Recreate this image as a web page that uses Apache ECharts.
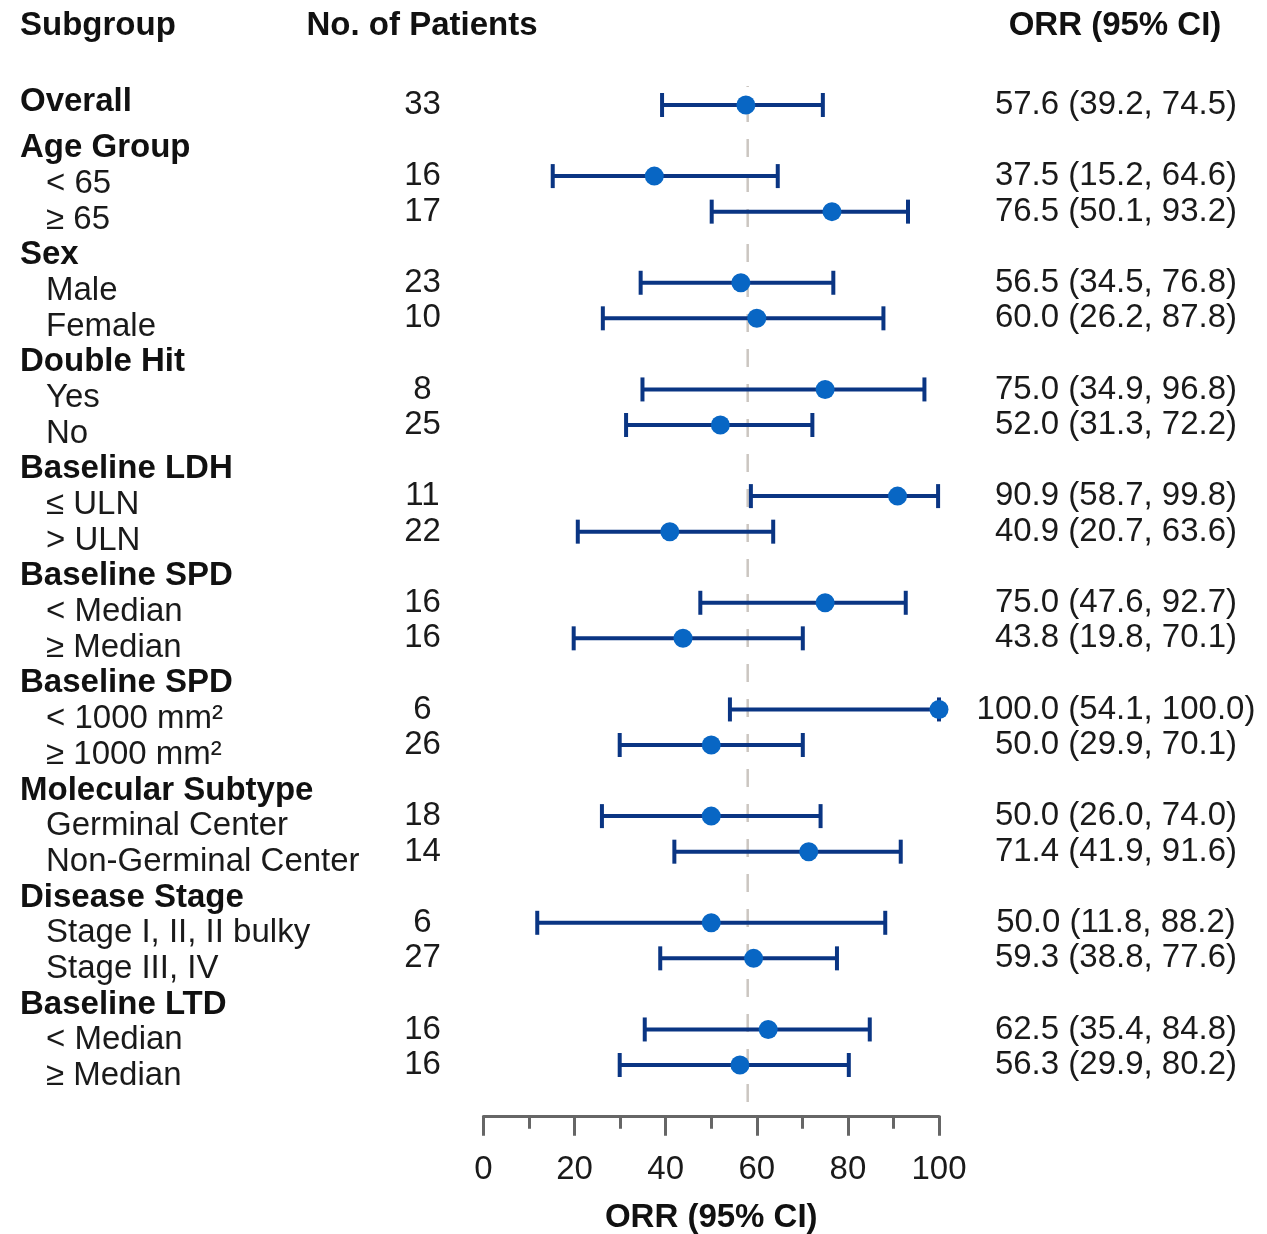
<!DOCTYPE html>
<html><head><meta charset="utf-8">
<script src="https://cdn.jsdelivr.net/npm/echarts@6/dist/echarts.min.js"></script>
<style>html,body{margin:0;padding:0;background:#fff}#c{width:1267px;height:1234px}</style>
</head><body><div id="c"></div>
<script>
// ---------- data ----------
const subgroups = ['Overall','Age Group','< 65','≥ 65','Sex','Male','Female','Double Hit','Yes','No','Baseline LDH','≤ ULN','> ULN','Baseline SPD','< Median','≥ Median','Baseline SPD','< 1000 mm²','≥ 1000 mm²','Molecular Subtype','Germinal Center','Non-Germinal Center','Disease Stage','Stage I, II, II bulky','Stage III, IV','Baseline LTD','< Median','≥ Median'];
const isHeader = [1,1,0,0,1,0,0,1,0,0,1,0,0,1,0,0,1,0,0,1,0,0,1,0,0,1,0,0];
const patients = [33,null,16,17,null,23,10,null,8,25,null,11,22,null,16,16,null,6,26,null,18,14,null,6,27,null,16,16];
const orr    = [57.6,null,37.5,76.5,null,56.5,60.0,null,75.0,52.0,null,90.9,40.9,null,75.0,43.8,null,100.0,50.0,null,50.0,71.4,null,50.0,59.3,null,62.5,56.3];
const ciLow  = [39.2,null,15.2,50.1,null,34.5,26.2,null,34.9,31.3,null,58.7,20.7,null,47.6,19.8,null,54.1,29.9,null,26.0,41.9,null,11.8,38.8,null,35.4,29.9];
const ciHigh = [74.5,null,64.6,93.2,null,76.8,87.8,null,96.8,72.2,null,99.8,63.6,null,92.7,70.1,null,100.0,70.1,null,74.0,91.6,null,88.2,77.6,null,84.8,80.2];
const xMin = 0, xMax = 100, xInterval = 20;
const refValue = 58;
const headers = ['Subgroup','No. of Patients','ORR (95% CI)'];
const xAxisName = 'ORR (95% CI)';

// ---------- build ----------
const FONT = '"Liberation Sans", Arial, Helvetica, sans-serif';
const TXT = '#1a1a1a';
const FS = 33;
const rowIds = subgroups.map((_, i) => 'r' + i);
const fmt = v => v.toFixed(1);
const orrText = orr.map((v, i) => v == null ? '' : fmt(v) + ' (' + fmt(ciLow[i]) + ', ' + fmt(ciHigh[i]) + ')');
const labelData = rowIds.map((id, i) => i === 0 ? {value: id, textStyle: {align: 'left', padding: [0, 0, 20, 0]}} : id);
const barData = [], dotData = [];
orr.forEach((v, i) => { if (v != null) { barData.push([ciLow[i], ciHigh[i], i]); dotData.push([v, i]); } });

const chart = echarts.init(document.getElementById('c'), null, {renderer: 'canvas'});
const boldTitle = {fontSize: FS, fontWeight: 'bold', color: '#111', fontFamily: FONT};
chart.setOption({
  animation: false,
  backgroundColor: '#ffffff',
  textStyle: {fontFamily: FONT},
  title: [
    {text: headers[0], left: 20, top: 9, padding: 0, textStyle: boldTitle},
    {text: headers[1], left: 422, top: 9, padding: 0, textAlign: 'center', textStyle: boldTitle},
    {text: headers[2], left: 1115, top: 9, padding: 0, textAlign: 'center', textStyle: boldTitle}
  ],
  grid: [
    {left: 483.5, width: 455.5, top: 87.2, height: 995.6, containLabel: false, outerBoundsMode: 'none'},
    {left: 20, width: 10, top: 94.5, height: 999.3, containLabel: false, outerBoundsMode: 'none'},
    {left: 483.5, width: 455.5, top: 86, height: 1016, containLabel: false, outerBoundsMode: 'none'}
  ],
  xAxis: [
    {gridIndex: 0, type: 'value', min: xMin, max: xMax, interval: xInterval, position: 'bottom', offset: 33,
     axisLine: {show: true, lineStyle: {color: '#666', width: 3}},
     axisTick: {show: true, length: 20, lineStyle: {color: '#666', width: 3}},
     minorTick: {show: true, splitNumber: 2, length: 13, lineStyle: {color: '#666', width: 3}},
     splitLine: {show: false}, minorSplitLine: {show: false},
     axisLabel: {fontSize: FS, color: TXT, margin: 38, fontFamily: FONT},
     name: xAxisName, nameLocation: 'middle', nameGap: 86,
     nameTextStyle: boldTitle},
    {gridIndex: 1, type: 'value', show: false},
    {gridIndex: 2, type: 'value', min: xMin, max: xMax, show: false}
  ],
  yAxis: [
    {gridIndex: 0, type: 'category', data: rowIds, inverse: true, position: 'left',
     axisLine: {show: false}, axisTick: {show: false}, splitLine: {show: false},
     axisLabel: {interval: 0, margin: 61, align: 'center', fontSize: FS, color: TXT, fontFamily: FONT,
       formatter: (v, i) => patients[i] == null ? '' : String(patients[i])}},
    {gridIndex: 0, type: 'category', data: rowIds, inverse: true, position: 'right',
     axisLine: {show: false}, axisTick: {show: false}, splitLine: {show: false},
     axisLabel: {interval: 0, margin: 177, align: 'center', fontSize: FS, color: TXT, fontFamily: FONT,
       formatter: (v, i) => orrText[i]}},
    {gridIndex: 1, type: 'category', data: labelData, inverse: true, position: 'left',
     axisLine: {show: false}, axisTick: {show: false}, splitLine: {show: false},
     axisLabel: {interval: 0, margin: 0, align: 'left', fontSize: FS, color: TXT, fontFamily: FONT,
       formatter: (v, i) => isHeader[i] ? '{h|' + subgroups[i] + '}' : '{s|' + subgroups[i] + '}',
       rich: {
         h: {fontSize: FS, fontWeight: 'bold', color: '#111', fontFamily: FONT},
         s: {fontSize: FS, color: TXT, fontFamily: FONT, padding: [0, 0, 0, 26]}
       }}},
    {gridIndex: 2, type: 'value', min: 0, max: 1, show: false}
  ],
  series: [
    {type: 'line', xAxisIndex: 2, yAxisIndex: 3, data: [[refValue, 0], [refValue, 1]], symbol: 'none', silent: true, z: 1,
     lineStyle: {color: '#cbc6c1', width: 2.5, type: [18, 17]}},
    {type: 'custom', xAxisIndex: 0, yAxisIndex: 0, data: barData, z: 2, encode: {x: [0, 1], y: 2},
     renderItem: (params, api) => {
       const y = api.value(2);
       const a = api.coord([api.value(0), y]);
       const b = api.coord([api.value(1), y]);
       const st = {stroke: '#0a3583', lineWidth: 4};
       const h = 12;
       return {type: 'group', children: [
         {type: 'line', shape: {x1: a[0], y1: a[1], x2: b[0], y2: b[1]}, style: st},
         {type: 'line', shape: {x1: a[0], y1: a[1] - h, x2: a[0], y2: a[1] + h}, style: st},
         {type: 'line', shape: {x1: b[0], y1: b[1] - h, x2: b[0], y2: b[1] + h}, style: st}
       ]};
     }},
    {type: 'scatter', xAxisIndex: 0, yAxisIndex: 0, data: dotData, symbol: 'circle', symbolSize: 19, z: 3,
     itemStyle: {color: '#0866c4', opacity: 1}}
  ]
});
</script>
</body></html>
